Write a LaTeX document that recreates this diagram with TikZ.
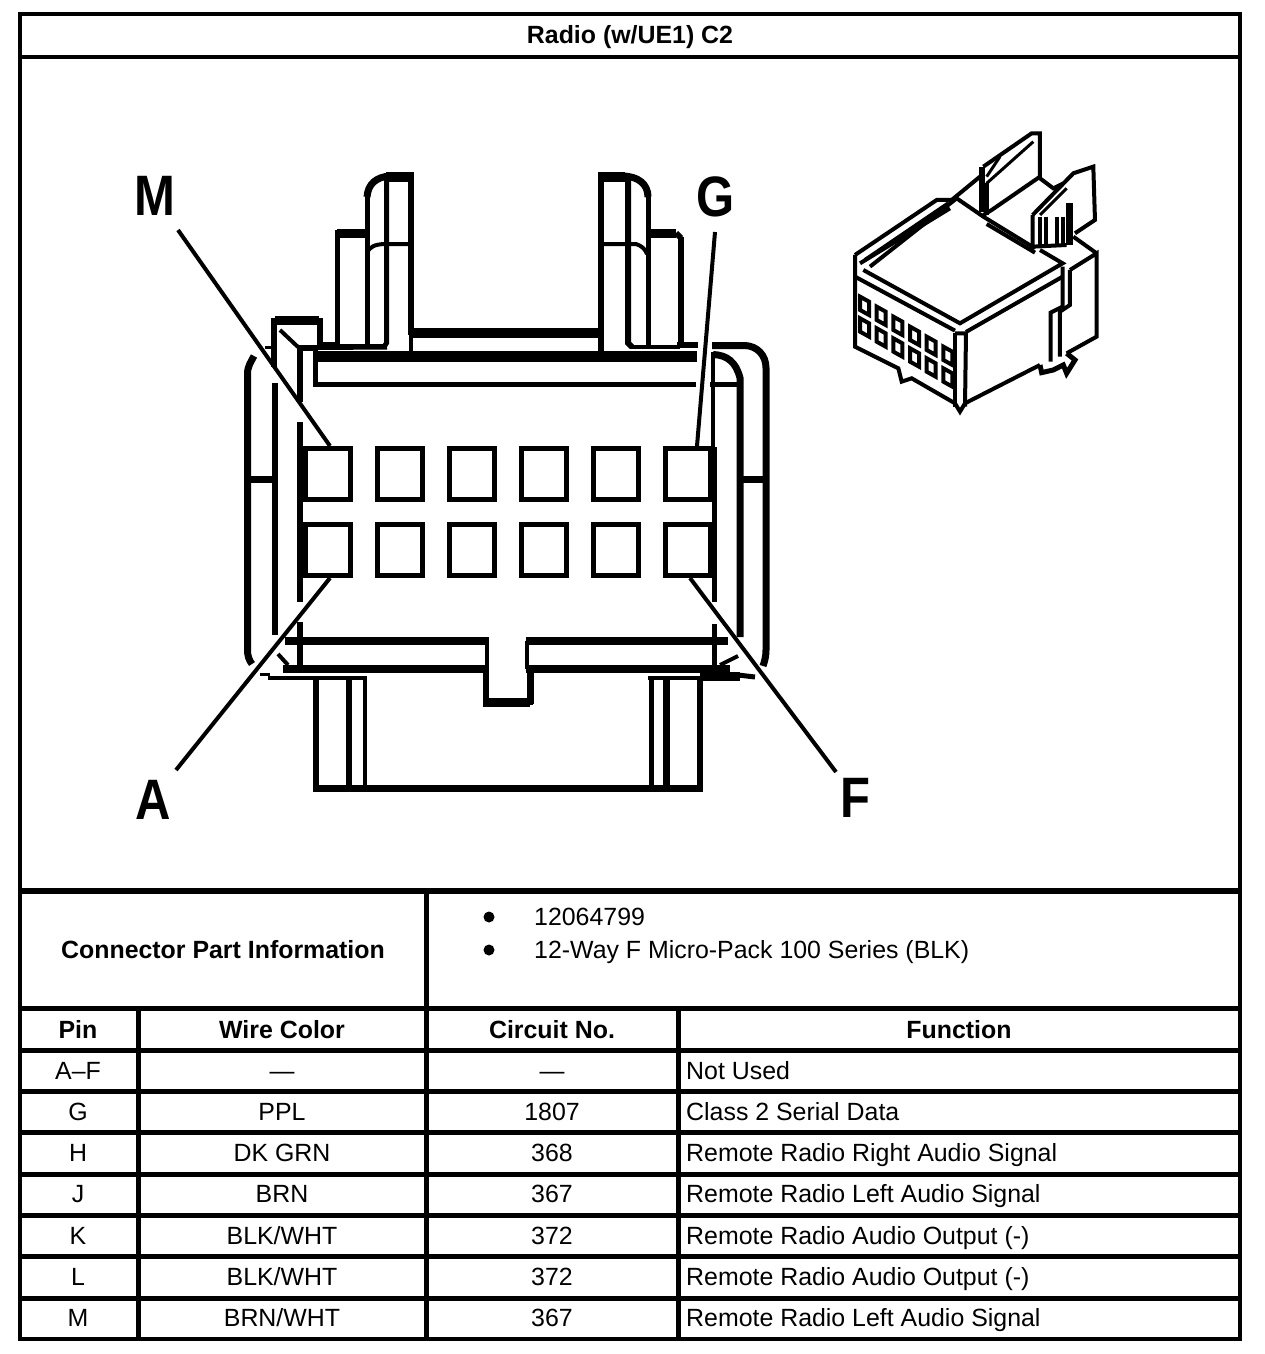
\documentclass[tikz,border=0pt]{standalone}
\usepackage{fontspec}
\setmainfont{Liberation Sans}
\newfontfamily\pinfont[FakeStretch=0.86]{Liberation Sans}
\usetikzlibrary{positioning}
\tikzset{
	ink/.style={line width=#1pt, line cap=butt, line join=miter}, % all strokes of the drawing
	cell/.style={font=\fontsize{24.9}{28}\selectfont, inner sep=0pt, anchor=base},
	headcell/.style={cell, font=\fontsize{24.9}{28}\selectfont\bfseries},
	dotcell/.style={circle, fill, inner sep=0pt, minimum size=11pt},
	pinbox/.style={draw, ink=5, minimum width=45pt, minimum height=51pt, inner sep=0pt},
	pinname/.style={font=\pinfont\fontsize{57}{60}\selectfont\bfseries, inner sep=0pt},
	leader/.style={ink=4},
}

\begin{document}
\begin{tikzpicture}[x=1pt,y=-1pt]
	\useasboundingbox (0,0) rectangle (1264,1354);
	
	% table frame
	\draw[ink=4] (19.5,14) rectangle (1239.5,1339);
	\draw[ink=4] (19.5,57) -- (1239.5,57);
	\draw[ink=6] (19.5,891) -- (1239.5,891);
	\draw[ink=5] (19.5,1008.5) -- (1239.5,1008.5);
	\foreach \rowy in {1050.5,1091.5,1132.5,1174,1215.5,1256.5,1298}
		\draw[ink=5] (19.5,\rowy) -- (1239.5,\rowy);
	\draw[ink=5] (138,1008.5) -- (138,1339);
	\draw[ink=5] (426.5,891) -- (426.5,1339);
	\draw[ink=5] (678.5,1008.5) -- (678.5,1339);
	
	\node[headcell] (title) at (630,44) {Radio (w/UE1) C2};
	\node[headcell] (partinfo) at (223,958) {Connector Part Information};
	\node[dotcell] (dotone) at (489,917) {};
	\node[dotcell] (dottwo) at (489,950) {};
	\node[cell, anchor=base west] (partno) at (534,925) {12064799};
	\node[cell, anchor=base west] (parttype) at (534,958) {12-Way F Micro-Pack 100 Series (BLK)};
	
	\node[headcell] (headpin) at (78,1038) {Pin};
	\node[headcell] (headwire) at (282,1038) {Wire Color};
	\node[headcell] (headckt) at (552,1038) {Circuit No.};
	\node[headcell] (headfunc) at (959,1038) {Function};
	
	\foreach \rowy/\pinid/\wire/\cktno/\func in {
		1079/A--F/---/---/Not Used,
		1120/G/PPL/1807/Class 2 Serial Data,
		1161/H/DK GRN/368/Remote Radio Right Audio Signal,
		1202/J/BRN/367/Remote Radio Left Audio Signal,
		1244/K/{BLK/WHT}/372/Remote Radio Audio Output (-),
		1285/L/{BLK/WHT}/372/Remote Radio Audio Output (-),
		1326/M/{BRN/WHT}/367/Remote Radio Left Audio Signal}
	{
		\node[cell] (pincell\rowy) at (78,\rowy) {\pinid};
		\node[cell] (wirecell\rowy) at (282,\rowy) {\wire};
		\node[cell] (cktcell\rowy) at (552,\rowy) {\cktno};
		\node[cell, anchor=base west] (funccell\rowy) at (686,\rowy) {\func};
	}
	
	% cavities
	\foreach \pinid [count=\i from 0] in {M,L,K,J,H,G}
		\node[pinbox] (pin\pinid) at (328+72*\i,474) {};
	\foreach \pinid [count=\i from 0] in {A,B,C,D,E,F} {
		\node[pinbox] (pin\pinid) at (328+72*\i,550) {};
		\draw[ink=3.5] ([yshift=-3pt]pin\pinid.north west) -- ([yshift=-3pt]pin\pinid.north east);
	}
	
	% left latch
	\draw[ink=9] (367,233.5) -- (337,233.5);
	\draw[ink=5] (337,230) -- (337,346);
	\draw[ink=5] (367,346) -- (367,195);
	\draw[ink=7] (367,197) .. controls (368,184) and (376,177) .. (390,176);
	\draw[ink=10] (386,177) -- (414,177);
	\draw[ink=6] (411,172) -- (411,335);
	\draw[ink=4] (411,335) -- (411,351);
	\draw[ink=5] (386.5,178) -- (386.5,343) -- (384,347);
	\draw[ink=4] (367,253) .. controls (369,247) and (375,244) .. (386,244) -- (411,244);
	\draw[ink=4] (323,346) -- (387,346);
	
	% right latch
	\draw[ink=10] (598,177) -- (625,177);
	\draw[ink=7] (622,176) .. controls (638,176) and (648,184) .. (648,197);
	\draw[ink=6] (601,172) -- (601,351);
	\draw[ink=6] (628,178) -- (628,343) -- (632,347);
	\draw[ink=5] (648,193) -- (648,346);
	\draw[ink=4] (601,244) -- (636,244) .. controls (642,246) and (645,249) .. (647,254);
	\draw[ink=9] (648,233.5) -- (676,233.5);
	\draw[ink=6] (681,237) -- (681,346);
	\draw[ink=6] (676,233) -- (681,238);
	\draw[ink=4] (630,347) -- (680,347);
	\draw[ink=6] (677,345) -- (698,345);
	
	% top of the shell
	\draw[ink=10] (410,333) -- (600,333);
	\draw[ink=11] (318,356.5) -- (697,356.5);
	\draw[ink=5] (315.5,350) -- (315.5,384.5) -- (696,384.5);
	
	% small tab on the left
	\draw[ink=9] (275,320.5) -- (319,320.5);
	\draw[ink=6] (273.5,318) -- (273.5,367);
	\draw[ink=6] (319.5,318) -- (319.5,350);
	\draw[ink=5] (322,344) -- (337,344);
	\draw[ink=2] (318,349) -- (387,348.5);
	\draw[ink=4] (280,330) -- (298,347);
	\draw[ink=6] (297,348) -- (318,348);
	\draw[ink=3] (265,347) -- (274,347);
	
	% walls, left side
	\draw[ink=7] (254,356) .. controls (251,362) and (247.5,366) .. (247.5,374) -- (247.5,650) .. controls (247.5,656) and (249,660) .. (252,664);
	\draw[ink=6] (274.5,383) -- (274.5,635);
	\draw[ink=6] (300,348) -- (300,402);
	\draw[ink=6] (300,422) -- (300,602);
	\draw[ink=6] (300,622) -- (300,668);
	\draw[ink=7] (247.5,479.5) -- (274.5,479.5);
	
	% walls, right side
	\draw[ink=7] (712,345.5) -- (745,345.5) .. controls (757,346) and (766,355) .. (766,368) -- (766,650) .. controls (766,656) and (765,660) .. (763,666);
	\draw[ink=7] (713,354.5) .. controls (727,355) and (736,362) .. (740,378) -- (740,637);
	\draw[ink=3.5] (713,352) -- (713,447);
	\draw[ink=5] (710,384.5) -- (737,384.5);
	\draw[ink=5.5] (714.5,447) -- (714.5,602);
	\draw[ink=5] (714.5,624) -- (714.5,668);
	\draw[ink=7] (740,479.5) -- (766,479.5);
	
	% bottom of the shell
	\draw[ink=8] (285,641) -- (489,641);
	\draw[ink=4] (487,641) -- (487,672);
	\draw[ink=8] (283,669) -- (488,669);
	\draw[ink=6] (486,666) -- (486,704) -- (530,704);
	\draw[ink=7] (487,701) -- (533,701);
	\draw[ink=7] (530,704) -- (530,669);
	\draw[ink=8] (526,669) -- (730,669);
	\draw[ink=8] (526,641) -- (728,641);
	\draw[ink=4] (527,641) -- (527,669);
	\draw[ink=4] (278,654) -- (288,665);
	\draw[ink=3] (260,674) -- (270,674);
	\draw[ink=3.5] (268,678) -- (367,678);
	\draw[ink=4] (720,665) -- (738,656);
	\draw[ink=3.5] (648,678) -- (702,678);
	\draw[ink=9] (700,676.5) -- (740,676.5);
	\draw[ink=5] (738,675) -- (755,677);
	
	% lower tabs
	\draw[ink=6] (316,678) -- (316,791);
	\draw[ink=6] (349,678) -- (349,786);
	\draw[ink=4] (365,678) -- (365,786);
	\draw[ink=7] (313,788.5) -- (702,788.5);
	\draw[ink=5] (651,678) -- (651,786);
	\draw[ink=7] (666,678) -- (666,786);
	\draw[ink=6] (699.5,676) -- (699.5,792);
	
	% pin names and their leaders
	\node[pinname] (lblM) at (155,196) {M};
	\node[pinname] (lblG) at (716,197) {G};
	\node[pinname] (lblA) at (153,800) {A};
	\node[pinname] (lblF) at (855,798) {F};
	\coordinate (tipM) at (178,230);
	\coordinate (tipG) at (715,232);
	\coordinate (tipA) at (176,770);
	\coordinate (tipF) at (836,772);
	\draw[leader] (tipM) -- ([xshift=2pt]pinM.north);
	\draw[leader] (tipG) -- ([xshift=9pt]pinG.north);
	\draw[leader] (tipA) -- ([xshift=2pt]pinA.south);
	\draw[leader] (tipF) -- ([xshift=2pt]pinF.south);
	
	% small view of the housing
	\begin{scope}[shift={(840,120)},x=0.3333pt,y=-0.3333pt]
		% top face
		\draw[ink=4] (70,450) -- (360,610) -- (668,430) -- (600,390);
		\draw[ink=4] (90,440) -- (350,235) -- (430,290) -- (585,385);
		\draw[ink=4] (440,312) -- (585,398);
		\draw[ink=4] (45,470) -- (345,632);
		\draw[ink=4] (378,636) -- (668,470);
		% rail
		\draw[ink=4] (45,405) -- (290,240) -- (335,240) -- (420,170);
		\draw[ink=4] (60,430) -- (330,265);
		\draw[ink=4] (75,420) -- (325,250);
		% front and side
		\draw[ink=4] (45,405) -- (45,680) -- (175,745) -- (185,785) -- (215,775) -- (345,850) -- (360,875) -- (375,850) -- (600,735);
		\draw[ink=4] (345,640) -- (378,640) -- (375,860);
		\draw[ink=4] (345,640) -- (345,860);
		\draw[ink=4] (668,440) -- (668,560) -- (632,578) -- (632,725);
		\draw[ink=4] (690,450) -- (690,555) -- (660,575) -- (660,710);
		\draw[ink=4] (690,450) -- (770,400) -- (770,650) -- (680,700);
		\draw[ink=4] (770,400) -- (700,350);
		\draw[ink=5] (600,735) -- (605,758) -- (640,750) -- (670,735) -- (680,760) -- (705,720) -- (680,700);
		% left tab
		\draw[ink=4] (430,140) -- (575,40) -- (600,40) -- (600,170) -- (455,270) -- (430,285);
		\draw[ink=3] (440,190) -- (580,65);
		\draw[ink=3] (440,170) -- (480,110);
		\draw[ink=6] (425,140) -- (425,275);
		\draw[ink=4] (440,190) -- (440,285);
		% right tab
		\draw[ink=4] (600,175) -- (640,205) -- (670,190);
		\draw[ink=4] (578,285) -- (700,160) -- (760,140) -- (765,300) -- (705,340);
		\draw[ink=3] (600,285) -- (680,205);
		\draw[ink=4] (578,285) -- (578,380) -- (680,375);
		\foreach \barx in {600,618,650,670} 
			\draw[ink=4] (\barx,290) -- (\barx,375);
		\draw[ink=7] (690,250) -- (690,375);
		% cavities
		\foreach \i in {0,...,5} {
			\draw[ink=4] (60+50*\i,530+30*\i) -- ++(27,15) -- ++(0,40) -- ++(-27,-15) -- cycle;
			\draw[ink=4] (60+50*\i,595+30*\i) -- ++(27,15) -- ++(0,40) -- ++(-27,-15) -- cycle;
		}
	\end{scope}
\end{tikzpicture}
\end{document}
